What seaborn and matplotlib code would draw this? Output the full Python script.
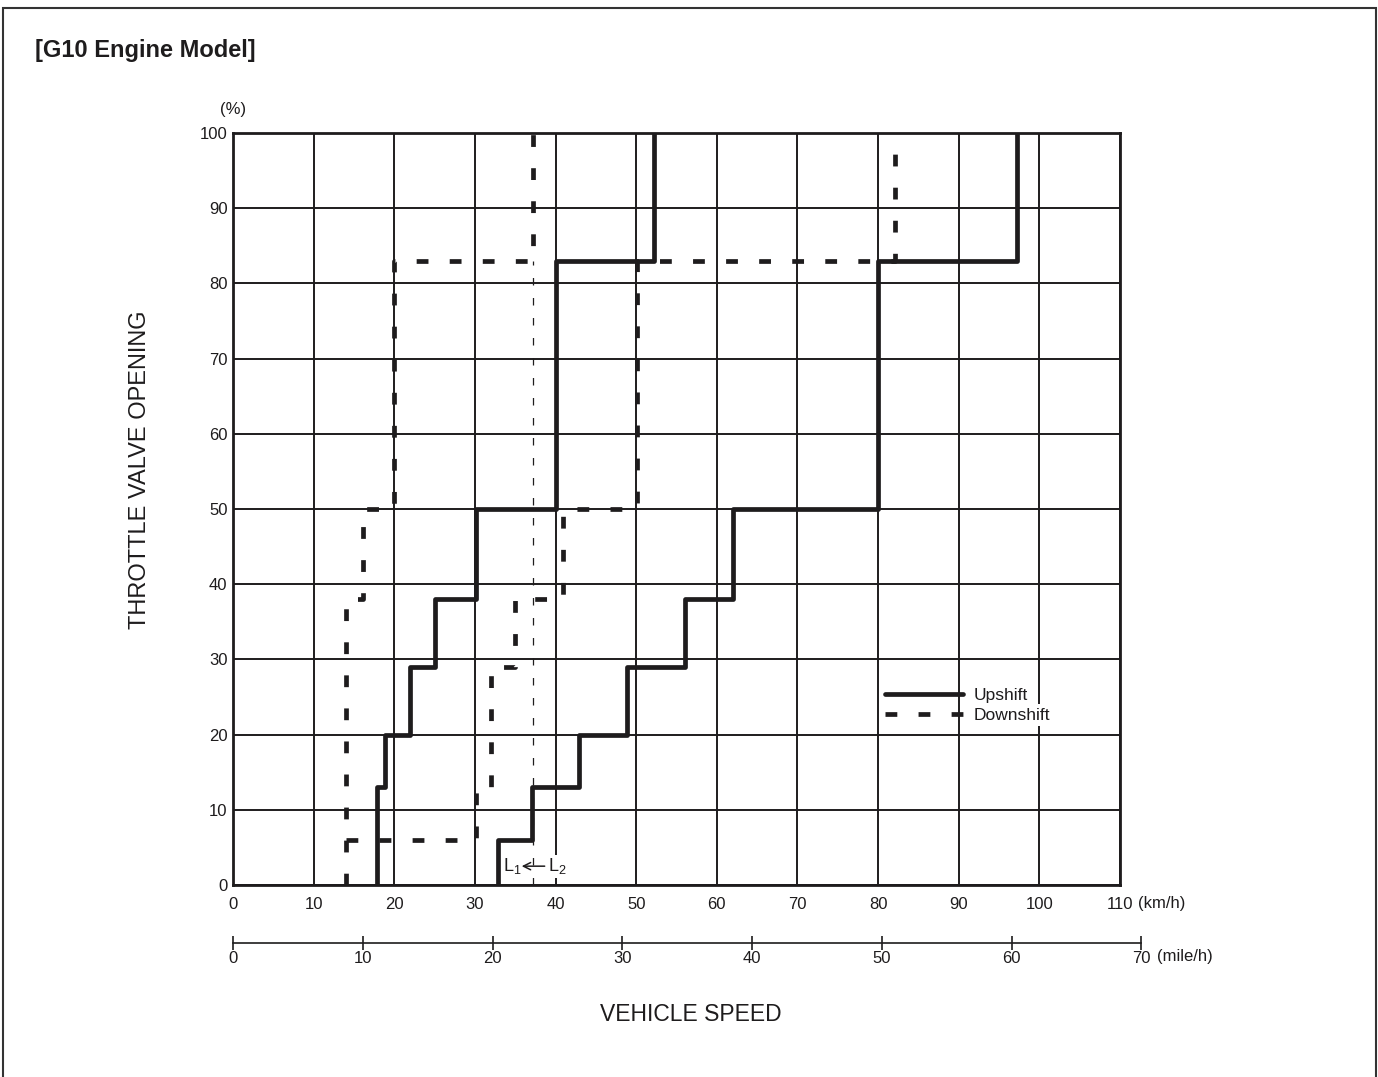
import matplotlib
matplotlib.use("Agg")
import matplotlib.pyplot as plt
import seaborn as sns
from matplotlib.patches import Rectangle

# ---------------------------------------------
# values
# speed in km/h, throttle opening in %
# ---------------------------------------------
km_ticks = list(range(0, 111, 10))
mph_ticks = list(range(0, 71, 10))
pct_ticks = list(range(0, 101, 10))

# 1 -> 2 upshift
up12_speed = [17.8, 17.8, 18.8, 18.8, 21.9, 21.9, 25.0, 25.0, 30.1, 30.1, 40.0, 40.0, 52.2, 52.2]
up12_throttle = [0, 13, 13, 20, 20, 29, 29, 38, 38, 50, 50, 83, 83, 100]

# 2 -> 3 upshift
up23_speed = [32.8, 32.8, 37.1, 37.1, 42.9, 42.9, 48.9, 48.9, 56.0, 56.0, 62.0, 62.0, 80.0, 80.0, 97.2, 97.2]
up23_throttle = [0, 6, 6, 13, 13, 20, 20, 29, 29, 38, 38, 50, 50, 83, 83, 100]

# 2 -> 1 downshift
down21_speed = [14.0, 14.0, 16.1, 16.1, 20.0, 20.0, 37.2, 37.2]
down21_throttle = [0, 38, 38, 50, 50, 83, 83, 100]

# 3 -> 2 downshift
down32_speed = [14.0, 30.1, 30.1, 32.0, 32.0, 35.0, 35.0, 40.9, 40.9, 50.1, 50.1, 82.1, 82.1]
down32_throttle = [6, 6, 13, 13, 29, 29, 38, 38, 50, 50, 83, 83, 100]

# L1 reference line
l1_speed = [37.2, 37.2]
l1_throttle = [0, 83]

KMH_PER_MPH = 1.609344
ink = "#1e1c1d"

sns.set_style("white")
plt.rcParams["font.family"] = ["Liberation Sans", "DejaVu Sans"]
plt.rcParams["text.color"] = ink

fig = plt.figure(figsize=(13.78, 10.77), dpi=100)
ax = fig.add_axes([0.1691, 0.1783, 0.6437, 0.6982])

# --- shift lines ---
line_kw = dict(sort=False, estimator=None, errorbar=None, legend=False,
               color=ink, linewidth=3.4, ax=ax, zorder=4)
sns.lineplot(x=up12_speed, y=up12_throttle, label="Upshift", **line_kw)
sns.lineplot(x=up23_speed, y=up23_throttle, **line_kw)
sns.lineplot(x=down21_speed, y=down21_throttle, label="Downshift",
             dashes=(2.5, 4.5), **line_kw)
sns.lineplot(x=down32_speed, y=down32_throttle, dashes=(2.5, 4.5), **line_kw)
sns.lineplot(x=l1_speed, y=l1_throttle, sort=False, estimator=None, errorbar=None,
             legend=False, color=ink, linewidth=0.9, dashes=(6, 10), ax=ax, zorder=3)

# --- axes, grid ---
ax.set_xlim(0, 110)
ax.set_ylim(0, 100)
ax.set_xticks(km_ticks)
ax.set_yticks(pct_ticks)
ax.set_xticklabels([str(v) for v in km_ticks])
ax.set_yticklabels([str(v) for v in pct_ticks])
ax.grid(True, color=ink, linewidth=1.4)
ax.set_axisbelow(True)
for sp in ax.spines.values():
    sp.set_color(ink)
    sp.set_linewidth(2.0)
ax.tick_params(length=0, labelsize=12, colors=ink)
ax.tick_params(axis="x", pad=9)
ax.tick_params(axis="y", pad=4)

ax.set_ylabel("THROTTLE VALVE OPENING", fontsize=17, color=ink)
ax.yaxis.set_label_coords(-0.092, 0.552)
ax.set_xlabel("VEHICLE SPEED", fontsize=16.5, color=ink)
ax.xaxis.set_label_coords(0.516, -0.157)

ax.text(0, 1.031, "(%)", transform=ax.transAxes, ha="center", va="center", fontsize=12)
ax.text(1.0203, -0.024, "(km/h)", transform=ax.transAxes, ha="left", va="center", fontsize=12)

# L1 <- L2 marker
ax.text(33.5, 2.5, r"$\mathregular{L_1}$", ha="left", va="center", fontsize=13, zorder=5)
ax.annotate(r"$\mathregular{L_2}$", xy=(35.8, 2.5), xytext=(39.0, 2.5),
            ha="left", va="center", fontsize=13, zorder=5,
            bbox=dict(facecolor="white", edgecolor="none", pad=1),
            arrowprops=dict(arrowstyle="->", color=ink, lw=1.1, shrinkA=1, shrinkB=0))

# legend
leg = ax.legend(loc="upper left", bbox_to_anchor=(0.735, 0.262), frameon=False,
                fontsize=12.5, handlelength=4.5, handletextpad=0.6,
                labelspacing=0.25, borderpad=0, borderaxespad=0)
for t in leg.get_texts():
    t.set_bbox(dict(facecolor="white", edgecolor="none", pad=2.5))

# --- mile/h scale bar ---
ax2 = fig.add_axes([0.1691, 1 - 943 / 1077, 0.6437 * (70 * KMH_PER_MPH) / 110, 1e-5])
ax2.patch.set_visible(False)
ax2.set_xlim(0, 70)
ax2.set_ylim(0, 1)
ax2.set_yticks([])
ax2.set_xticks(mph_ticks)
ax2.set_xticklabels([str(v) for v in mph_ticks])
for s in ["top", "left", "right"]:
    ax2.spines[s].set_visible(False)
ax2.spines["bottom"].set_color(ink)
ax2.spines["bottom"].set_linewidth(1.2)
ax2.tick_params(axis="x", bottom=True, direction="inout", length=10, width=1.2, pad=1,
                labelsize=12, colors=ink)
ax2.annotate("(mile/h)", xy=(70, 0), xycoords="data", xytext=(11, -10),
             textcoords="offset points", ha="left", va="center", fontsize=12)

# title and page frame
fig.text(35 / 1378, 1 - 51 / 1077, "[G10 Engine Model]", ha="left", va="center",
         fontsize=17, fontweight="bold", color=ink)
fig.add_artist(Rectangle((0.0022, -0.01), 0.9963, 1.0026, transform=fig.transFigure,
                         fill=False, edgecolor="#333333", linewidth=1.5))

fig.savefig("out.png", dpi=100)
